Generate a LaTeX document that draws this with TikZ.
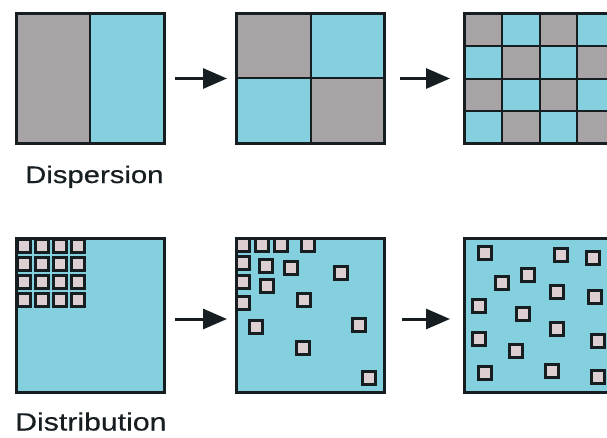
\documentclass[tikz,border=0pt]{standalone}
\usepackage{fontspec}
\setmainfont{Liberation Sans}
\usetikzlibrary{arrows.meta}
\definecolor{slab}{RGB}{168,164,166}
\definecolor{aqua}{RGB}{132,208,222}
\definecolor{chipfill}{RGB}{221,207,209}
\definecolor{ink}{RGB}{22,30,34}
\begin{document}
\begin{tikzpicture}[x=1pt,y=-1pt,
  frame/.style={draw=ink, line width=3pt, rectangle, inner sep=0pt, outer sep=0pt},
  divider/.style={draw=ink, line width=2pt},
  chip/.style={draw=ink, fill=chipfill, line width=3.4pt, rectangle,
               minimum size=12.6pt, inner sep=0pt, outer sep=0pt},
  flow/.style={draw=ink, line width=3pt, -{Triangle[length=24pt,width=20pt]}},
  caption/.style={text=ink, inner sep=0pt, anchor=base west}]
\useasboundingbox (0,0) rectangle (607,437);
\clip (0,0) rectangle (607,437);

% ---------- Dispersion ----------
% two halves
\fill[slab] (16.5,13.5) rectangle (90,143.5);
\fill[aqua] (90,13.5) rectangle (164.5,143.5);
\draw[divider] (90,13.5) -- (90,143.5);
\node[frame, minimum width=148pt, minimum height=130pt] (p1) at (90.5,78.5) {};

% four quarters
\fill[slab] (236.5,13.5) rectangle (311,78);
\fill[aqua] (311,13.5) rectangle (384.5,78);
\fill[aqua] (236.5,78) rectangle (311,143.5);
\fill[slab] (311,78) rectangle (384.5,143.5);
\draw[divider] (311,13.5) -- (311,143.5);
\draw[divider] (236.5,78) -- (384.5,78);
\node[frame, minimum width=148pt, minimum height=130pt] (p2) at (310.5,78.5) {};

% checkerboard
\foreach \i in {0,...,3}{
  \foreach \j in {0,...,3}{
    \ifodd\numexpr\i+\j\relax
      \fill[aqua] (464.5+37.5*\i,13.5+32.5*\j) rectangle ++(37.5,32.5);
    \else
      \fill[slab] (464.5+37.5*\i,13.5+32.5*\j) rectangle ++(37.5,32.5);
    \fi
  }
}
\foreach \k in {1,2,3}{
  \draw[divider] (464.5+37.5*\k,13.5) -- ++(0,130);
  \draw[divider] (464.5,13.5+32.5*\k) -- ++(150,0);
}
\node[frame, minimum width=150pt, minimum height=130pt] (p3) at (539.5,78.5) {};

\draw[flow] ([xshift=10.5pt]p1.east) -- ([xshift=-9.5pt]p2.west);
\draw[flow] ([xshift=15.5pt]p2.east) -- ([xshift=-14.5pt]p3.west);

\node[caption] (dispersion) at (25,183)
  {\fontsize{24}{28}\selectfont\addfontfeature{FakeBold=0.4}\scalebox{1.22}[1]{Dispersion}};

% ---------- Distribution ----------
\node[frame, fill=aqua, minimum width=148pt, minimum height=154pt] (p4) at (90.5,315.5) {};
\node[frame, fill=aqua, minimum width=148pt, minimum height=154pt] (p5) at (310.5,315.5) {};
\node[frame, fill=aqua, minimum width=150pt, minimum height=154pt] (p6) at (539.5,315.5) {};

% packed block of particles
\foreach \i in {0,...,3}{
  \foreach \j in {0,...,3}{
    \node[chip] (g-\i-\j) at (24+18*\i,246+18*\j) {};
  }
}

% partly spread particles
\foreach \px/\py [count=\n] in {243/245,262/245,281/245,308/245,
    243/263,266/266,291/268,341/273,
    243/282,267/286,304/300,243/303,
    256/327,359/325,303/348,369/378}{
  \node[chip] (s-\n) at (\px,\py) {};
}

% evenly spread particles
\foreach \px/\py [count=\n] in {485/253,561/255,593/258,528/275,
    502/283,557/292,595/297,479/306,
    523/314,557/329,479/339,598/341,
    516/351,485/373,552/371,598/377}{
  \node[chip] (e-\n) at (\px,\py) {};
}

\draw[flow] ([xshift=10.5pt,yshift=-3.5pt]p4.east) -- ([xshift=-9.5pt,yshift=-3.5pt]p5.west);
\draw[flow] ([xshift=17.5pt,yshift=-3.5pt]p5.east) -- ([xshift=-14.5pt,yshift=-3.5pt]p6.west);

\node[caption] (distribution) at (15,430.5)
  {\fontsize{25}{29}\selectfont\addfontfeature{FakeBold=0.4}\scalebox{1.21}[1]{Distribution}};
\end{tikzpicture}
\end{document}
